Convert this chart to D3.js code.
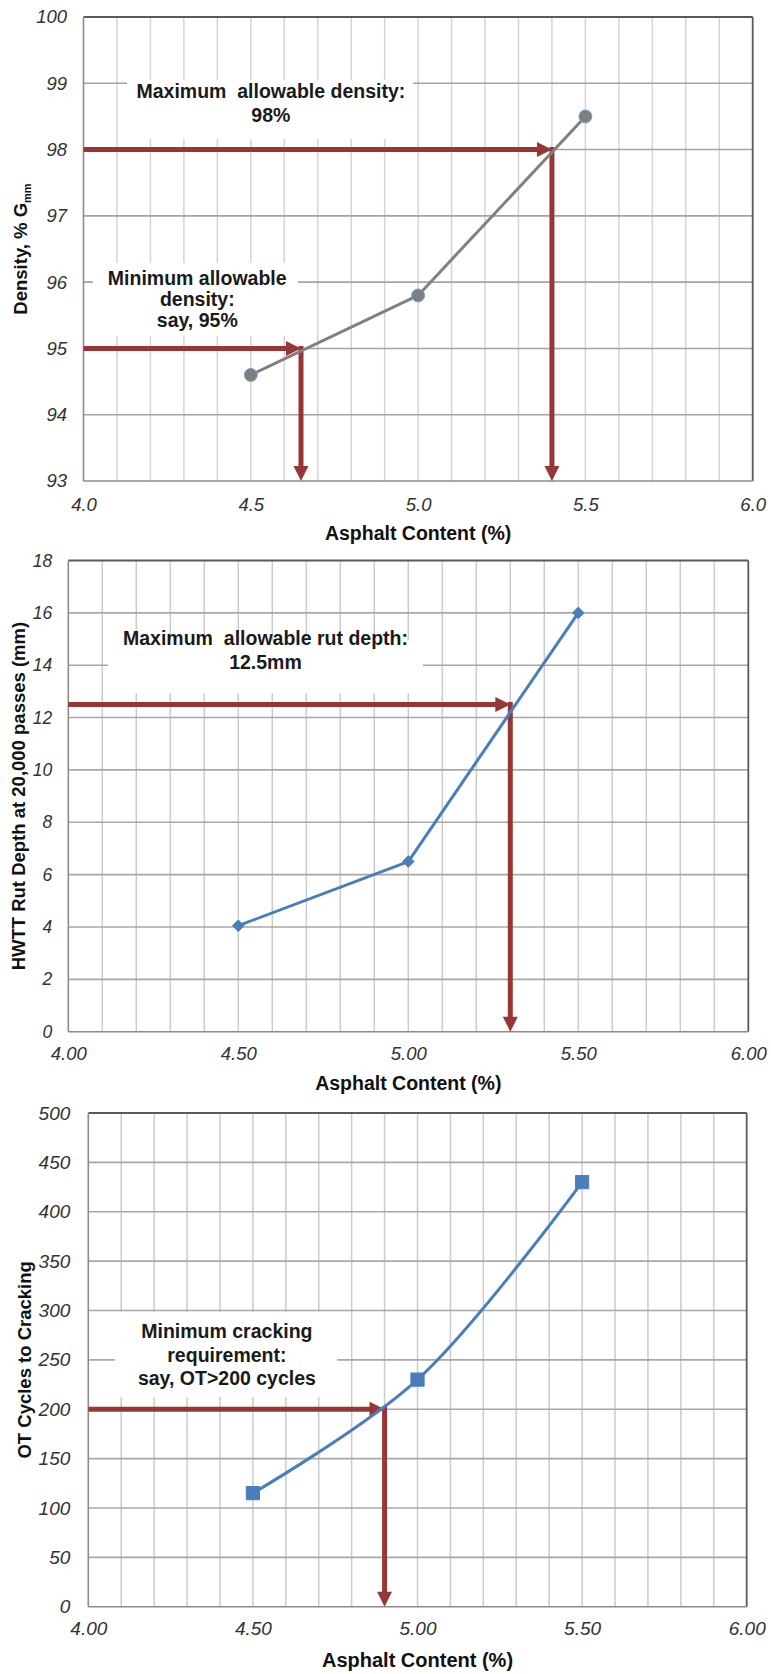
<!DOCTYPE html>
<html><head><meta charset="utf-8">
<script src="https://cdn.jsdelivr.net/npm/d3@7"></script>
<style>
body{margin:0;background:#fff}
text{font-family:"Liberation Sans",Arial,sans-serif}
</style>
</head><body><script>
// ---------- data ----------
const asphaltContent = [4.5, 5.0, 5.5];
const densityValues  = [94.6, 95.8, 98.5];
const rutDepthValues = [4.05, 6.5, 16.0];
const otCycleValues  = [115, 230, 430];

const xTickValues    = [4.0, 4.5, 5.0, 5.5, 6.0];
const xGridValues    = [4.1,4.2,4.3,4.4,4.5,4.6,4.7,4.8,4.9,5.0,5.1,5.2,5.3,5.4,5.5,5.6,5.7,5.8,5.9];
const densityTicks   = [93, 94, 95, 96, 97, 98, 99, 100];
const rutTicks       = [0, 2, 4, 6, 8, 10, 12, 14, 16, 18];
const otTicks        = [0, 50, 100, 150, 200, 250, 300, 350, 400, 450, 500];

// thresholds [value, asphalt content where criterion is met]
const densityMaxCriterion = [98, 5.4];
const densityMinCriterion = [95, 4.65];
const rutMaxCriterion     = [12.5, 5.3];
const otMinCriterion      = [200, 4.9];

const densityMaxText = ["Maximum  allowable density:", "98%"];
const densityMinText = ["Minimum allowable", "density:", "say, 95%"];
const rutMaxText     = ["Maximum  allowable rut depth:", "12.5mm"];
const otMinText      = ["Minimum cracking", "requirement:", "say, OT>200 cycles"];

// ---------- drawing ----------
const W = 771, H = 1674;
const RED = "#973735";
const svg = d3.select("body").append("svg").attr("width", W).attr("height", H)
  .style("background", "#fff");

function drawPanel(p) {
  const x = d3.scaleLinear().domain([4, 6]).range([p.left, p.right]);
  const y = d3.scaleLinear().domain(p.yDomain).range([p.bottom, p.top]);
  const g = svg.append("g");

  g.append("g").selectAll("line").data(xGridValues).join("line")
    .attr("x1", d => x(d)).attr("x2", d => x(d))
    .attr("y1", p.top).attr("y2", p.bottom)
    .attr("stroke", p.vGrid).attr("stroke-width", 1.5);
  const inner = p.yTicks.slice(1, -1);
  g.append("g").selectAll("line").data(inner).join("line")
    .attr("x1", p.left).attr("x2", p.right)
    .attr("y1", d => y(d)).attr("y2", d => y(d))
    .attr("stroke", p.hGrid).attr("stroke-width", 1.6);
  g.append("line").attr("x1", p.left).attr("x2", p.right).attr("y1", p.top).attr("y2", p.top)
    .attr("stroke", "#5a5a5a").attr("stroke-width", 1.8);
  g.append("line").attr("x1", p.right).attr("x2", p.right).attr("y1", p.top).attr("y2", p.bottom)
    .attr("stroke", "#5a5a5a").attr("stroke-width", 1.8);
  g.append("line").attr("x1", p.left).attr("x2", p.left).attr("y1", p.top).attr("y2", p.bottom)
    .attr("stroke", "#8c8c8c").attr("stroke-width", 1.6);
  g.append("line").attr("x1", p.left).attr("x2", p.right).attr("y1", p.bottom).attr("y2", p.bottom)
    .attr("stroke", "#8c8c8c").attr("stroke-width", 1.6);

  p.notes.forEach(n => {
    g.append("rect")
      .attr("x", x(n.box[0])).attr("y", y(n.box[3]))
      .attr("width", x(n.box[1]) - x(n.box[0]))
      .attr("height", y(n.box[2]) - y(n.box[3]))
      .attr("fill", "#fff");
    const t = g.append("text").attr("text-anchor", "middle").style("white-space", "pre")
      .attr("font-weight", "bold").attr("font-size", n.fs || 19.5).attr("fill", "#1a1a1a");
    n.lines.forEach((s, i) => {
      t.append("tspan").attr("x", x(n.cx)).attr("y", y(n.baselines[i])).text(s);
    });
  });

  const aw = 5, ah = 15, hw = 7.5;
  p.criteria.forEach(c => {
    const cy = y(c[0]), cx = x(c[1]);
    g.append("line").attr("x1", p.left).attr("x2", cx - ah + 1).attr("y1", cy).attr("y2", cy)
      .attr("stroke", RED).attr("stroke-width", aw);
    g.append("path").attr("d", `M${cx},${cy}L${cx - ah},${cy - hw}L${cx - ah},${cy + hw}Z`).attr("fill", RED);
    g.append("line").attr("x1", cx).attr("x2", cx).attr("y1", cy - aw / 2).attr("y2", p.bottom - ah + 1)
      .attr("stroke", RED).attr("stroke-width", aw);
    g.append("path").attr("d", `M${cx},${p.bottom}L${cx - hw},${p.bottom - ah}L${cx + hw},${p.bottom - ah}Z`).attr("fill", RED);
  });

  const pts = asphaltContent.map((a, i) => [a, p.values[i]]);
  const line = d3.line().x(d => x(d[0])).y(d => y(d[1]));
  if (p.curve) line.curve(p.curve);
  g.append("path").attr("d", line(pts)).attr("fill", "none")
    .attr("stroke", p.lineColor).attr("stroke-width", 3).attr("stroke-linejoin", "round");
  g.append("g").selectAll("path").data(pts).join("path")
    .attr("transform", d => `translate(${x(d[0])},${y(d[1])})`)
    .attr("d", d3.symbol().type(p.symbol).size(p.symbolSize))
    .attr("fill", p.markerFill).attr("stroke", p.markerStroke).attr("stroke-width", 1);

  const ya = g.append("g").attr("transform", `translate(${p.left},0)`)
    .call(d3.axisLeft(y).tickValues(p.yTicks).tickSize(0).tickPadding(p.yPad).tickFormat(d3.format("d")));
  const xa = g.append("g").attr("transform", `translate(0,${p.bottom})`)
    .call(d3.axisBottom(x).tickValues(xTickValues).tickSize(0).tickPadding(p.xPad).tickFormat(d3.format(p.xFmt)));
  [ya, xa].forEach(a => {
    a.select(".domain").remove();
    a.selectAll("text").attr("font-family", "'Liberation Sans',Arial,sans-serif")
      .attr("font-style", "italic").attr("fill", "#333");
  });
  ya.selectAll("text").attr("font-size", p.yFs);
  xa.selectAll("text").attr("font-size", p.xFs);

  g.append("text").attr("x", (p.left + p.right) / 2).attr("y", p.xTitleY)
    .attr("text-anchor", "middle").attr("font-weight", "bold").attr("font-size", p.xTitleFs)
    .attr("fill", "#111").text("Asphalt Content (%)");
  const yt = g.append("text")
    .attr("transform", `translate(${p.yTitleX},${(p.top + p.bottom) / 2}) rotate(-90)`)
    .attr("text-anchor", "middle").attr("font-weight", "bold").attr("font-size", p.yTitleFs)
    .attr("fill", "#111");
  yt.append("tspan").text(p.yTitle);
  if (p.yTitleSub) yt.append("tspan").attr("font-size", 11).attr("dy", 4).text(p.yTitleSub);
}

drawPanel({
  left: 83.5, right: 752.7, top: 17, bottom: 481,
  yDomain: [93, 100], yTicks: densityTicks, values: densityValues,
  vGrid: "#d4d4d4", hGrid: "#a3a3a3",
  lineColor: "#808080", symbol: d3.symbolCircle, symbolSize: 130,
  markerFill: "#7f7f7f", markerStroke: "#6f9fd8",
  criteria: [densityMaxCriterion, densityMinCriterion],
  notes: [
    { lines: densityMaxText, box: [4.13, 4.985, 98.16, 99.05], cx: 4.56, baselines: [98.78, 98.42] },
    { lines: densityMinText, box: [4.028, 4.641, 95.19, 96.29], cx: 4.34, baselines: [95.96, 95.64, 95.32] }
  ],
  yPad: 16.5, xPad: 17, yFs: 18.5, xFs: 18.5, xFmt: ".1f",
  xTitleY: 540, xTitleFs: 19.5, yTitleX: 27, yTitleFs: 18.5,
  yTitle: "Density, % G", yTitleSub: "mm"
});

drawPanel({
  left: 68.3, right: 748.3, top: 560.5, bottom: 1031.7,
  yDomain: [0, 18], yTicks: rutTicks, values: rutDepthValues,
  vGrid: "#cbcbcb", hGrid: "#a8a8a8",
  lineColor: "#4a7ebb", symbol: d3.symbolDiamond2, symbolSize: 85,
  markerFill: "#4a7ebb", markerStroke: "#4a7ebb",
  criteria: [rutMaxCriterion],
  notes: [
    { lines: rutMaxText, box: [4.117, 5.043, 12.93, 14.95], cx: 4.58, baselines: [14.76, 13.84] }
  ],
  yPad: 16, xPad: 15, yFs: 17.5, xFs: 18.5, xFmt: ".2f",
  xTitleY: 1090, xTitleFs: 19.5, yTitleX: 25, yTitleFs: 18.5,
  yTitle: "HWTT Rut Depth at 20,000 passes (mm)"
});

drawPanel({
  left: 88.3, right: 746.7, top: 1113, bottom: 1606.7,
  yDomain: [0, 500], yTicks: otTicks, values: otCycleValues,
  vGrid: "#cbcbcb", hGrid: "#a8a8a8",
  lineColor: "#4a7ebb", symbol: d3.symbolSquare, symbolSize: 175,
  markerFill: "#4a7ebb", markerStroke: "#4a7ebb",
  curve: d3.curveCatmullRom.alpha(0.5),
  criteria: [otMinCriterion],
  notes: [
    { lines: otMinText, box: [4.081, 4.756, 212.4, 298.5], cx: 4.421, baselines: [271.8, 248.1, 224.5] }
  ],
  yPad: 18, xPad: 15, yFs: 19, xFs: 19, xFmt: ".2f",
  xTitleY: 1666.7, xTitleFs: 20, yTitleX: 31, yTitleFs: 18.5,
  yTitle: "OT Cycles to Cracking"
});
</script></body></html>
